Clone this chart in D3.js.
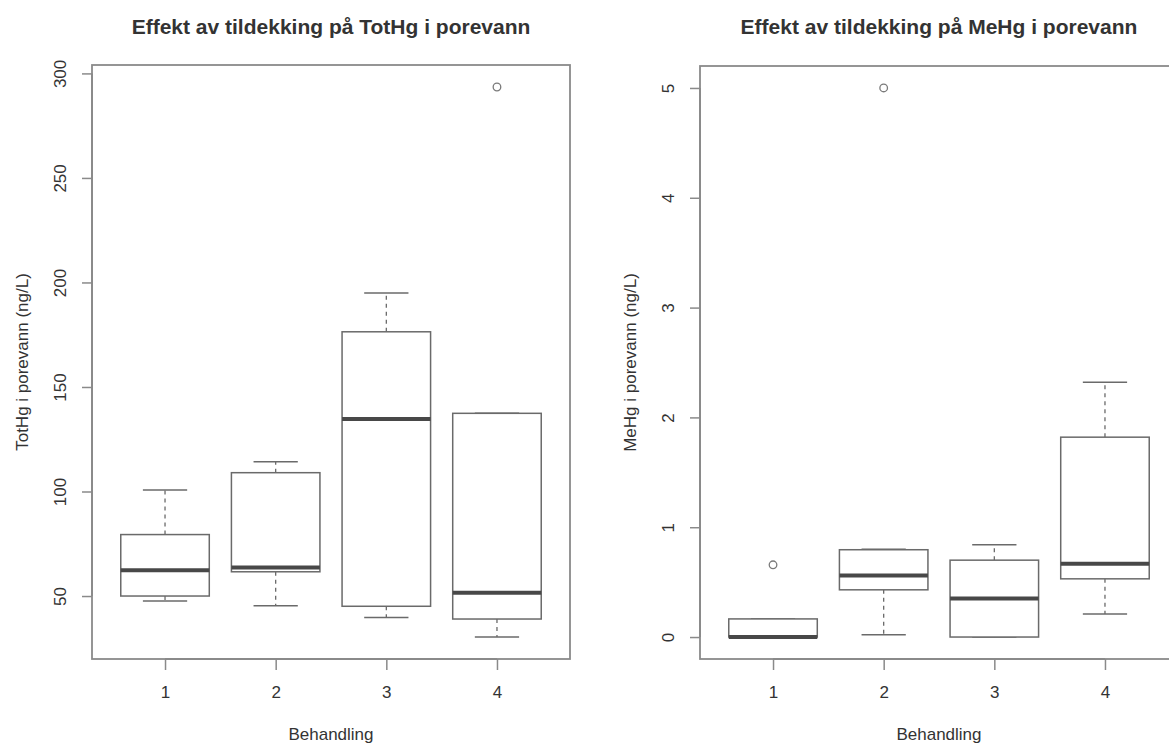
<!DOCTYPE html>
<html>
<head>
<meta charset="utf-8">
<script src="https://cdn.jsdelivr.net/npm/d3@7"></script>
<style>
  html, body { margin: 0; padding: 0; background: #fff; }
  svg { display: block; }
  text { font-family: "Liberation Sans", Arial, Helvetica, sans-serif; fill: #333; }
</style>
</head>
<body>
<svg id="chart" width="1169" height="744"></svg>
<script>
// ---- data ----
const groups = ["1", "2", "3", "4"];

// TotHg (ng/L)
const totLow  = [47.6, 45.3, 39.7, 30.4];
const totQ1   = [50.0, 61.6, 45.1, 39.0];
const totMed  = [62.3, 63.7, 134.7, 51.6];
const totQ3   = [79.4, 109.0, 176.4, 137.4];
const totHigh = [100.7, 114.2, 195.0, 137.4];
const totOut  = [[], [], [], [293.5]];
const totTicks = [50, 100, 150, 200, 250, 300];

// MeHg (ng/L)
const meLow  = [0.0, 0.02, 0.0, 0.21];
const meQ1   = [0.0, 0.43, 0.0, 0.53];
const meMed  = [0.0, 0.56, 0.35, 0.667];
const meQ3   = [0.165, 0.795, 0.70, 1.82];
const meHigh = [0.165, 0.80, 0.84, 2.32];
const meOut  = [[0.658], [5.0], [], []];
const meTicks = [0, 1, 2, 3, 4, 5];

const titles = ["Effekt av tildekking på TotHg i porevann", "Effekt av tildekking på MeHg i porevann"];
const yLabels = ["TotHg i porevann (ng/L)", "MeHg i porevann (ng/L)"];
const xLabel = "Behandling";

// ---- drawing ----
const svg = d3.select("#chart");
const lineCol = "#6a6a6a";
const frameCol = "#8a8a8a";

function panel(opts) {
  const { x0, x1, y0, y1, low, q1, med, q3, high, out, ticks, title, ylab } = opts;
  const g = svg.append("g");
  const n = groups.length;
  const x = d3.scaleLinear().domain([0.5 - 0.04 * n, n + 0.5 + 0.04 * n]).range([x0, x1]);
  const all = low.concat(high, out.flat());
  const mn = d3.min(all), mx = d3.max(all), r = mx - mn;
  const y = d3.scaleLinear().domain([mn - 0.04 * r, mx + 0.04 * r]).range([y1, y0]);

  const boxHalf = (x(1.4) - x(1));
  const stapleHalf = boxHalf / 2;

  groups.forEach((gname, i) => {
    const cx = x(i + 1);
    // whiskers (dashed)
    g.append("line").attr("x1", cx).attr("x2", cx).attr("y1", y(q3[i])).attr("y2", y(high[i]))
      .attr("stroke", lineCol).attr("stroke-width", 1.3).attr("stroke-dasharray", "4,4");
    g.append("line").attr("x1", cx).attr("x2", cx).attr("y1", y(q1[i])).attr("y2", y(low[i]))
      .attr("stroke", lineCol).attr("stroke-width", 1.3).attr("stroke-dasharray", "4,4");
    // staples
    [low[i], high[i]].forEach(v => {
      g.append("line").attr("x1", cx - stapleHalf).attr("x2", cx + stapleHalf)
        .attr("y1", y(v)).attr("y2", y(v)).attr("stroke", lineCol).attr("stroke-width", 1.5);
    });
    // box
    g.append("rect").attr("x", cx - boxHalf).attr("width", 2 * boxHalf)
      .attr("y", y(q3[i])).attr("height", Math.max(0.5, y(q1[i]) - y(q3[i])))
      .attr("fill", "#fff").attr("stroke", lineCol).attr("stroke-width", 1.5);
    // median
    g.append("line").attr("x1", cx - boxHalf).attr("x2", cx + boxHalf)
      .attr("y1", y(med[i])).attr("y2", y(med[i])).attr("stroke", "#484848").attr("stroke-width", 4);
    // outliers
    out[i].forEach(v => {
      g.append("circle").attr("cx", cx).attr("cy", y(v)).attr("r", 3.8)
        .attr("fill", "none").attr("stroke", "#7a7a7a").attr("stroke-width", 1.3);
    });
  });

  // frame
  g.append("rect").attr("x", x0).attr("y", y0).attr("width", x1 - x0).attr("height", y1 - y0)
    .attr("fill", "none").attr("stroke", frameCol).attr("stroke-width", 1.8);

  // y axis
  const yAxis = d3.axisLeft(y).tickValues(ticks).tickSize(10).tickPadding(0).tickFormat(d3.format("d"));
  const ya = g.append("g").attr("transform", `translate(${x0},0)`).call(yAxis);
  ya.select(".domain").attr("stroke", frameCol).attr("stroke-width", 1.8)
    .attr("d", `M0,${y(ticks[0])}V${y(ticks[ticks.length - 1])}`);
  ya.selectAll(".tick line").attr("stroke", frameCol).attr("stroke-width", 1.5);
  ya.selectAll(".tick text")
    .attr("x", 0).attr("y", 0).attr("dy", null)
    .attr("transform", "translate(-26,0) rotate(-90)")
    .attr("text-anchor", "middle")
    .style("font-size", "17px").style("font-family", "'Liberation Sans', Arial, sans-serif")
    .attr("fill", "#333");

  // x axis
  const xAxis = d3.axisBottom(x).tickValues(groups.map((d, i) => i + 1)).tickSize(11).tickPadding(0)
    .tickFormat((d) => groups[d - 1]);
  const xa = g.append("g").attr("transform", `translate(0,${y1})`).call(xAxis);
  xa.select(".domain").attr("stroke", frameCol).attr("stroke-width", 1.8)
    .attr("d", `M${x(1)},0H${x(n)}`);
  xa.selectAll(".tick line").attr("stroke", frameCol).attr("stroke-width", 1.5);
  xa.selectAll(".tick text").attr("y", 39).attr("dy", null)
    .style("font-size", "17px").style("font-family", "'Liberation Sans', Arial, sans-serif")
    .attr("fill", "#333");

  const cxm = (x0 + x1) / 2;
  // title
  g.append("text").attr("x", cxm).attr("y", 34).attr("text-anchor", "middle")
    .style("font-size", "21px").style("font-weight", "bold").text(title);
  // x label
  g.append("text").attr("x", cxm).attr("y", 740).attr("text-anchor", "middle")
    .style("font-size", "17px").text(xLabel);
  // y label
  g.append("text").attr("transform", `translate(${x0 - 64},${(y0 + y1) / 2}) rotate(-90)`)
    .attr("text-anchor", "middle").style("font-size", "17px").text(ylab);
}

panel({ x0: 92, x1: 570, y0: 65, y1: 659, low: totLow, q1: totQ1, med: totMed, q3: totQ3,
        high: totHigh, out: totOut, ticks: totTicks, title: titles[0], ylab: yLabels[0] });
panel({ x0: 700, x1: 1178, y0: 66, y1: 659, low: meLow, q1: meQ1, med: meMed, q3: meQ3,
        high: meHigh, out: meOut, ticks: meTicks, title: titles[1], ylab: yLabels[1] });
</script>
</body>
</html>
